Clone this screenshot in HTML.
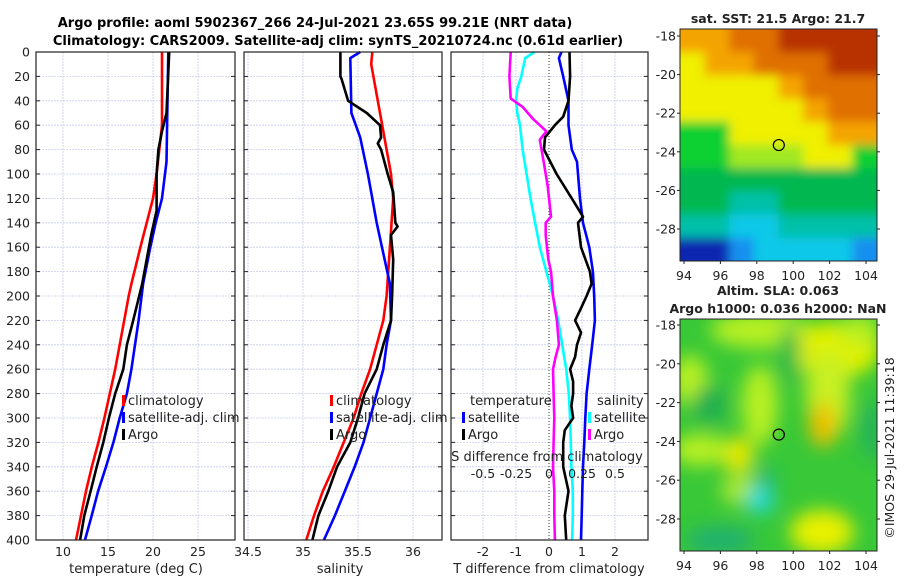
<!DOCTYPE html>
<html><head><meta charset="utf-8"><style>
body{margin:0;background:#fff;}
svg{display:block;font-family:"DejaVu Sans","Liberation Sans",sans-serif;}
</style></head><body>
<svg id="c" width="900" height="580" xmlns="http://www.w3.org/2000/svg">
<defs>
<filter id="bl" x="-20%" y="-20%" width="140%" height="140%"><feGaussianBlur stdDeviation="9"/></filter>
<filter id="bl1" x="-5%" y="-5%" width="110%" height="110%"><feGaussianBlur stdDeviation="5"/></filter>
<clipPath id="cm1"><rect x="680" y="29" width="197" height="232"/></clipPath>
<clipPath id="cm2"><rect x="680" y="319" width="197" height="232"/></clipPath>
</defs>
<text x="315" y="27" text-anchor="middle" font-size="13" font-weight="bold">Argo profile: aoml 5902367_266 24-Jul-2021 23.65S 99.21E (NRT data)</text>
<text x="338" y="45" text-anchor="middle" font-size="13" font-weight="bold">Climatology: CARS2009. Satellite-adj clim: synTS_20210724.nc (0.61d earlier)</text>
<g id="g"></g>
</svg>
<script>
// ---- data ----
const depthTicks=[0,20,40,60,80,100,120,140,160,180,200,220,240,260,280,300,320,340,360,380,400];
const tTicks=[10,15,20,25];
const sTicks=[34.5,35,35.5,36];
const sTickLabels=['34.5','35','35.5','36'];
const dTicks=[-2,-1,0,1,2];
const sdTicks=[-0.5,-0.25,0,0.25,0.5];
const lonTicks=[94,96,98,100,102,104];
const latTicks=[-18,-20,-22,-24,-26,-28];

const tClimDepth=[0,60,100,120,140,160,190,200,240,260,280,300,320,340,360,380,400];
const tClim=[21.0,21.0,20.4,20.0,19.3,18.6,17.6,17.3,16.3,15.8,15.2,14.6,13.93,13.2,12.56,12.0,11.44];
const tSatDepth=[0,90,120,140,160,190,220,260,280,300,320,340,360,380,400];
const tSat=[21.7,21.5,21.0,20.3,19.7,18.9,18.4,17.6,17.1,16.3,15.6,14.78,13.9,13.19,12.44];
const tArgoDepth=[0,50,65,80,100,130,150,170,190,220,240,260,280,300,320,340,360,380,400];
const tArgo=[21.8,21.5,21.0,20.6,20.4,20.4,19.8,19.3,18.8,17.8,17.1,16.7,15.8,15.1,14.48,13.74,13.07,12.37,11.9];

const sClimDepth=[0,10,40,80,100,120,200,220,240,260,280,300,320,340,360,380,400];
const sClim=[35.63,35.62,35.68,35.76,35.80,35.82,35.76,35.73,35.67,35.61,35.53,35.46,35.37,35.28,35.18,35.10,35.03];
const sSatDepth=[0,5,50,70,100,140,190,220,240,260,280,300,320,340,360,380,400];
const sSat=[35.52,35.43,35.44,35.52,35.59,35.67,35.79,35.80,35.76,35.73,35.67,35.61,35.55,35.47,35.38,35.29,35.19];
const sArgoDepth=[0,20,22,40,50,60,70,75,80,100,115,140,143,150,170,200,220,240,260,280,300,320,340,360,380,400];
const sArgo=[35.34,35.34,35.35,35.41,35.58,35.70,35.71,35.68,35.71,35.77,35.82,35.84,35.86,35.80,35.82,35.81,35.80,35.73,35.67,35.56,35.50,35.43,35.31,35.23,35.14,35.085];

const dtArgoDepth=[0,20,40,53,60,70,80,100,120,135,140,160,180,190,200,210,220,230,240,250,260,270,280,290,300,310,320,340,360,380,400];
const dtArgo=[0.62,0.64,0.59,0.43,0.18,-0.12,-0.15,0.23,0.69,1.03,0.88,0.97,1.24,1.29,1.14,0.97,0.79,0.97,0.85,0.79,0.64,0.73,0.73,0.68,0.73,0.48,0.43,0.43,0.59,0.48,0.52];
const dtSatDepth=[0,5,20,40,60,80,90,120,140,160,180,200,220,240,260,280,300,320,340,360,380,400];
const dtSat=[0.38,0.30,0.43,0.59,0.59,0.69,0.85,0.94,1.03,1.22,1.33,1.37,1.39,1.31,1.22,1.14,1.10,1.07,1.03,1.01,0.99,0.97];
const dsSatDepth=[0,5,20,30,40,50,60,80,100,120,140,160,180,200,220,240,260,280,300,320,340,360,380,400];
const dsSat=[-0.11,-0.18,-0.21,-0.24,-0.25,-0.24,-0.22,-0.20,-0.17,-0.14,-0.105,-0.07,-0.02,0.03,0.07,0.10,0.13,0.15,0.16,0.165,0.17,0.18,0.18,0.175];
const dsArgoDepth=[0,20,38,45,55,60,65,72,90,110,135,140,150,170,180,200,220,240,250,260,280,300,320,340,360,380,400];
const dsArgo=[-0.29,-0.30,-0.29,-0.20,-0.12,-0.07,-0.02,-0.07,-0.04,-0.01,0.015,-0.025,-0.025,-0.005,0.015,0.03,0.06,0.075,0.05,0.03,0.035,0.04,0.035,0.03,0.04,0.04,0.045];

const sstRows=["ooOORRRR","yooOOORR","yyyyoOOO","yyyyyoOO","ggyyyyoo","gglllyyg","GGGGGGGG","GGttGGGG","ttcctttt","BBbccccb"];
const argoLon=99.21, argoLat=-23.65;

// ---- drawing ----
const NS='http://www.w3.org/2000/svg';
const G=document.getElementById('g');
function mk(tag,at,parent){const e=document.createElementNS(NS,tag);for(const k in at)e.setAttribute(k,at[k]);(parent||G).appendChild(e);return e;}
const Y0=52,Y1=540;
const yD=d=>Y0+(d/400)*(Y1-Y0);
function lin(d0,d1,p0,p1){return v=>p0+(v-d0)/(d1-d0)*(p1-p0);}
const xT=lin(10,20,63,153);
const xS=lin(34.5,36,248,413);
const xDT=lin(0,1,549,582);
const xDS=lin(0,0.25,549,582);
const panels=[[36,235],[244,442],[451,648]];

panels.forEach((p,i)=>{
  const r=mk('rect',{x:p[0],y:Y0,width:p[1]-p[0],height:Y1-Y0,fill:'#fff',stroke:'none'});
  
  
  depthTicks.forEach(d=>{
    const l=mk('line',{x1:p[0],x2:p[1],y1:yD(d),y2:yD(d),stroke:'#c8cce8','stroke-width':0.8,'stroke-dasharray':'2,1'});
    
    
  });
});
function vgrid(xs,sc){xs.forEach(v=>{const x=sc(v);
  const l=mk('line',{x1:x,x2:x,y1:Y0,y2:Y1,stroke:'#c8cce8','stroke-width':0.8,'stroke-dasharray':'2,1'});
  
  });}
vgrid(tTicks,xT);vgrid(sTicks,xS);vgrid([-2,-1,1,2],xDT);
const z=mk('line',{x1:549,x2:549,y1:Y0,y2:Y1,stroke:'#333','stroke-width':1,'stroke-dasharray':'1,2'});



function series(ds,vs,sc,col,name){
  const pts=ds.map((d,i)=>sc(vs[i]).toFixed(1)+','+yD(d).toFixed(1)).join(' ');
  const pl=mk('polyline',{points:pts,fill:'none',stroke:col,'stroke-width':2.6,'stroke-linejoin':'round'});
  
  
}
series(tClimDepth,tClim,xT,'#ff0000','temp-climatology-line');
series(tSatDepth,tSat,xT,'#0000ff','temp-satellite-line');
series(tArgoDepth,tArgo,xT,'#000','temp-argo-line');
series(sClimDepth,sClim,xS,'#ff0000','sal-climatology-line');
series(sSatDepth,sSat,xS,'#0000ff','sal-satellite-line');
series(sArgoDepth,sArgo,xS,'#000','sal-argo-line');
series(dsSatDepth,dsSat,xDS,'#00ffff','dsal-satellite-line');
series(dsArgoDepth,dsArgo,xDS,'#ff00ff','dsal-argo-line');
series(dtSatDepth,dtSat,xDT,'#0000ff','dtemp-satellite-line');
series(dtArgoDepth,dtArgo,xDT,'#000','dtemp-argo-line');

panels.forEach((p,i)=>{
  const r=mk('rect',{x:p[0],y:Y0,width:p[1]-p[0],height:Y1-Y0,fill:'none',stroke:'#222','stroke-width':1.2});
  
  
  depthTicks.forEach(d=>{
    mk('line',{x1:p[0],x2:p[0]+4,y1:yD(d),y2:yD(d),stroke:'#222'});
    mk('line',{x1:p[1]-4,x2:p[1],y1:yD(d),y2:yD(d),stroke:'#222'});
  });
});
depthTicks.forEach(d=>{
  const t=mk('text',{x:30,y:yD(d)+4.5,'text-anchor':'end','font-size':12.5,fill:'#222'});
  t.textContent=d;
  
  
});
function xlabels(vals,labs,sc,y,name,fs){vals.forEach((v,i)=>{
  const t=mk('text',{x:sc(v),y:y,'text-anchor':'middle','font-size':fs||12.5,fill:'#222'});
  t.textContent=labs[i];
  
  });}
xlabels(tTicks,tTicks.map(String),xT,556,'temp-tick-label');
xlabels(sTicks,sTickLabels,xS,556,'sal-tick-label');
xlabels(dTicks,dTicks.map(String),xDT,556,'dtemp-tick-label');
xlabels(sdTicks,sdTicks.map(String),xDS,478,'dsal-tick-label');
function txt(x,y,s,name,opt){const t=mk('text',Object.assign({x:x,y:y,'font-size':13,fill:'#222'},opt||{}));t.textContent=s;
  
  return t;}
txt(136,573,'temperature (deg C)','temp-axis-title',{'text-anchor':'middle'});
txt(340,573,'salinity','sal-axis-title',{'text-anchor':'middle'});
txt(549,573,'T difference from climatology','dtemp-axis-title',{'text-anchor':'middle'});
txt(547,461,'S difference from climatology','dsal-axis-title',{'text-anchor':'middle'});

function leg(x,y,col,s,name){
  const m=mk('rect',{x:x,y:y-10,width:3,height:11,fill:col});
  
  
  txt(x+6,y,s,name);
}
leg(122,405,'#ff0000','climatology','legend-climatology');
leg(122,422,'#0000ff','satellite-adj. clim','legend-satellite');
leg(122,439,'#000','Argo','legend-argo');
leg(330,405,'#ff0000','climatology','legend-sal-climatology');
leg(330,422,'#0000ff','satellite-adj. clim','legend-sal-satellite');
leg(330,439,'#000','Argo','legend-sal-argo');
txt(470,405,'temperature','legend-temperature-heading');
leg(462,422,'#0000ff','satellite','legend-dtemp-satellite');
leg(462,439,'#000','Argo','legend-dtemp-argo');
txt(597,405,'salinity','legend-salinity-heading');
leg(588,422,'#00ffff','satellite','legend-dsal-satellite');
leg(588,439,'#ff00ff','Argo','legend-dsal-argo');

// maps
const cols={R:'#b83000',O:'#e07000',o:'#f4a400',y:'#f0f000',l:'#a0e820',g:'#10d030',G:'#00b850',t:'#00c0a8',c:'#10c8e8',b:'#1890f0',B:'#0828b0'};
const M1={x:680,y:29,w:197,h:232};
const m1g=mk('g',{'clip-path':'url(#cm1)'});


const m1b=mk('g',{filter:'url(#bl1)'},m1g);
const cw=M1.w/8,rh=M1.h/10;
sstRows.forEach((row,r)=>{[...row].forEach((ch,c)=>{
  const x0=M1.x+c*cw-(c==0?12:0), y0=M1.y+r*rh-(r==0?12:0);
  const w=cw+0.5+(c==0||c==7?12:0), h=rh+0.5+(r==0||r==9?12:0);
  const e=mk('rect',{x:x0,y:y0,width:w,height:h,fill:cols[ch]},m1b);
  
  
});});
const bg=mk('g',{'clip-path':'url(#cm2)'});


mk('rect',{x:680,y:319,width:197,height:232,fill:'#38c838'},bg);
const blobs=mk('g',{filter:'url(#bl)'},bg);
[[760,330,50,18,'#b8f020'],[835,350,45,28,'#e0f000'],[860,330,20,15,'#b8f020'],[828,395,22,45,'#c8f020'],[823,425,14,22,'#f0c000'],[760,405,18,40,'#b8f020'],[738,455,16,18,'#e8e800'],[690,380,18,25,'#b8f020'],[700,450,28,16,'#b8f020'],[822,532,32,22,'#e8f000'],[740,490,20,15,'#a8e830'],[765,480,10,12,'#20b880'],[760,500,14,14,'#20d8d8'],[720,540,35,14,'#20b070'],[872,430,10,30,'#20b060'],[710,405,18,20,'#20b050'],[790,355,10,30,'#20b848']].forEach(b=>{
  mk('ellipse',{cx:b[0],cy:b[1],rx:b[2],ry:b[3],fill:b[4]},blobs);
});
[[M1,36,229],[{x:680,y:319,w:197,h:232},325,519]].forEach((a,k)=>{
  const m=a[0];
  const fr=mk('rect',{x:m.x,y:m.y,width:m.w,height:m.h,fill:'none',stroke:'#222','stroke-width':1});
  
  
  const xL=lin(94,104,684,866), yL=lin(-18,-28,a[1],a[2]);
  lonTicks.forEach(v=>{
    mk('line',{x1:xL(v),x2:xL(v),y1:m.y+m.h,y2:m.y+m.h+3,stroke:'#222'});
    const t=mk('text',{x:xL(v),y:m.y+m.h+19,'text-anchor':'middle','font-size':12.5,fill:'#222'});t.textContent=v;
    
    
  });
  latTicks.forEach(v=>{
    mk('line',{x1:m.x+m.w,x2:m.x+m.w+3,y1:yL(v),y2:yL(v),stroke:'#222'});
    mk('line',{x1:m.x-3,x2:m.x,y1:yL(v),y2:yL(v),stroke:'#222'});
    const t=mk('text',{x:m.x-4,y:yL(v)+4.5,'text-anchor':'end','font-size':12.5,fill:'#222'});t.textContent=v;
    
    
  });
  const c=mk('circle',{cx:xL(argoLon),cy:yL(argoLat),r:5.5,fill:'none',stroke:'#000','stroke-width':1.2});
  
  
});
txt(778,23,'sat. SST: 21.5 Argo: 21.7','sst-map-title',{'text-anchor':'middle','font-weight':'bold','font-size':12.5});
txt(778,295,'Altim. SLA: 0.063','sla-map-title-1',{'text-anchor':'middle','font-weight':'bold','font-size':12.5});
txt(778,313,'Argo h1000: 0.036 h2000: NaN','sla-map-title-2',{'text-anchor':'middle','font-weight':'bold','font-size':12.5});
txt(0,0,'©IMOS 29-Jul-2021 11:39:18','copyright',{'text-anchor':'middle','font-size':12.5,transform:'translate(894,448) rotate(-90)'});
</script>
</body></html>
